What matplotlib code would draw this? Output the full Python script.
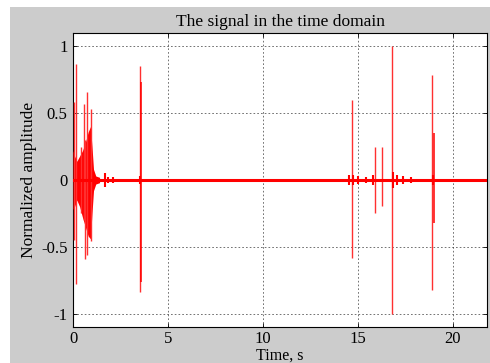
import matplotlib
matplotlib.use("Agg")
import matplotlib.pyplot as plt
from matplotlib.patches import Rectangle

# ---- data ----
t_end = 21.8
# tall isolated spikes: time, upper peak, lower peak
spike_t = [0.05, 0.17, 0.42, 0.58, 0.63, 0.75, 0.93, 3.55, 14.67, 15.92, 16.28, 16.80, 18.93]
spike_hi = [0.58, 0.87, 0.245, 0.57, 0.30, 0.655, 0.53, 0.855, 0.60, 0.25, 0.25, 1.00, 0.785]
spike_lo = [-0.45, -0.78, -0.25, -0.30, -0.59, -0.56, -0.46, -0.84, -0.58, -0.25, -0.195, -1.00, -0.82]
# stronger inner parts of two spikes
inner_t = [3.58, 19.0]
inner_hi = [0.73, 0.35]
inner_lo = [-0.76, -0.32]
# dense burst envelope at the start
burst_t = [0.00, 0.08, 0.20, 0.35, 0.50, 0.65, 0.80, 0.92, 1.00, 1.08, 1.20, 1.40]
burst_hi = [0.22, 0.18, 0.14, 0.18, 0.22, 0.28, 0.36, 0.40, 0.25, 0.08, 0.03, 0.02]
burst_lo = [-0.22, -0.20, -0.15, -0.20, -0.28, -0.35, -0.42, -0.44, -0.25, -0.08, -0.03, -0.02]
# small blips along the baseline
blip_t = [1.68, 1.85, 2.10, 3.55, 14.55, 14.75, 15.00, 15.45, 15.80, 16.85, 17.05, 17.40, 17.80, 18.95, 21.1]
blip_a = [0.05, 0.02, 0.02, 0.03, 0.04, 0.035, 0.03, 0.025, 0.04, 0.06, 0.035, 0.03, 0.025, 0.04, 0.01]

x_ticks = [0, 5, 10, 15, 20]
y_ticks = [-1, -0.5, 0, 0.5, 1]
y_ticklabels = ["-1", "-0.5", "0", "0.5", "1"]

plt.rcParams['font.family'] = ['Liberation Serif', 'DejaVu Serif']

fig = plt.figure(figsize=(4.9, 3.63), dpi=100)
fig.patch.set_facecolor('white')
fig.patches.append(Rectangle((10/490, 0), 1 - 10/490, 1 - 7/363, transform=fig.transFigure,
                             facecolor='#cccccc', edgecolor='none', zorder=-10))

ax = fig.add_axes([73/490, 1 - 327/363, (487 - 73)/490, (327 - 33)/363])
ax.set_facecolor('white')

red = '#ff0000'
ax.fill_between(burst_t, burst_lo, burst_hi, color=red, lw=0, zorder=3)
ax.vlines(spike_t, spike_lo, spike_hi, color='#ff3030', lw=1.0, zorder=3)
ax.vlines(inner_t, inner_lo, inner_hi, color=red, lw=1.1, zorder=3)
ax.vlines(blip_t, [-a for a in blip_a], blip_a, color=red, lw=1.5, zorder=3)
ax.plot([0, t_end], [0, 0], color=red, lw=2.2, zorder=4)

ax.set_xlim(0, t_end)
ax.set_ylim(-1.1, 1.1)
ax.set_xticks(x_ticks)
ax.set_yticks(y_ticks)
ax.set_yticklabels(y_ticklabels)
ax.tick_params(direction='in', length=3, labelsize=12, top=True, right=True, width=0.6, pad=3)
ax.tick_params(axis='y', pad=4)
ax.grid(True, color='#333333', linestyle=(0, (2, 2.5)), linewidth=0.6, alpha=0.8)
for s in ax.spines.values():
    s.set_linewidth(0.8)

ax.set_title("The signal in the time domain", fontsize=12.5, pad=5)
ax.set_xlabel("Time, s", fontsize=11.5, labelpad=0)
ax.set_ylabel("Normalized amplitude", fontsize=12.5, labelpad=3)

fig.savefig("out.png", dpi=100)
